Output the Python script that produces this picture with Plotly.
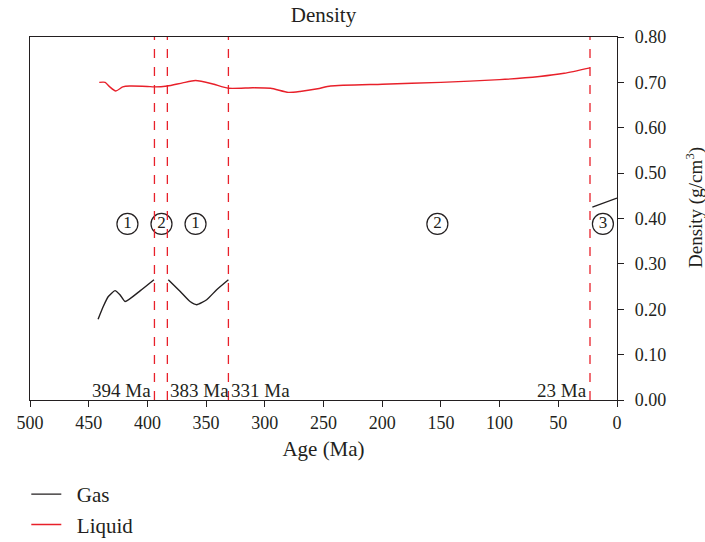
import plotly.graph_objects as go

# ---- data ----
liquid_age = [441, 436, 432, 427, 421, 415, 400, 394, 383, 370, 359, 345, 331, 310, 295, 280, 270, 255, 244, 200, 150, 100, 66, 45, 23]
liquid_den = [0.700, 0.700, 0.690, 0.681, 0.690, 0.692, 0.691, 0.690, 0.692, 0.699, 0.704, 0.697, 0.687, 0.688, 0.687, 0.678, 0.680, 0.686, 0.692, 0.696, 0.700, 0.706, 0.713, 0.720, 0.732]

gas_age = [442, 437.6, 433.3, 427.6, 423.4, 419, 406, 394.4, None,
           382.2, 372, 363.7, 358, 349.5, 341, 331, None,
           21, 0]
gas_den = [0.178, 0.206, 0.228, 0.241, 0.232, 0.217, 0.241, 0.265, None,
           0.265, 0.239, 0.217, 0.210, 0.221, 0.243, 0.265, None,
           0.425, 0.445]

boundary_age = [394, 383, 331, 23]
boundary_label = ["394 Ma", "383 Ma", "331 Ma", "23 Ma"]
boundary_side = ["left", "right", "right", "left"]

stage_age = [417, 388, 359, 153, 12]
stage_label = ["1", "2", "1", "2", "3"]
stage_y = 0.388

x_ticks = [500, 450, 400, 350, 300, 250, 200, 150, 100, 50, 0]
y_ticks = [0.0, 0.1, 0.2, 0.3, 0.4, 0.5, 0.6, 0.7, 0.8]

FONT = "Liberation Serif"
RED = "#e8202a"
BLACK = "#231f20"
NB = "\u00a0\u00a0"

fig = go.Figure()
fig.add_trace(go.Scatter(x=gas_age, y=gas_den, mode="lines", name=NB + "Gas", legendgroup="g",
                         line=dict(color=BLACK, width=1.4, shape="spline", smoothing=0.5),
                         connectgaps=False))
fig.add_trace(go.Scatter(x=liquid_age, y=liquid_den, mode="lines", name=NB + "Liquid", legendgroup="l",
                         line=dict(color=RED, width=1.4, shape="spline", smoothing=0.6)))
fig.add_trace(go.Scatter(x=stage_age, y=[stage_y] * len(stage_age), mode="markers+text",
                         text=stage_label, textposition="middle center",
                         textfont=dict(family=FONT, size=17, color=BLACK),
                         marker=dict(symbol="circle-open", size=21, color=BLACK, line=dict(width=1.2, color=BLACK)),
                         showlegend=False, hoverinfo="skip"))

for a, lab, side in zip(boundary_age, boundary_label, boundary_side):
    fig.add_shape(type="line", x0=a, x1=a, y0=0, y1=1, xref="x", yref="paper",
                  line=dict(color=RED, width=1.3, dash="dash"))
    fig.add_annotation(x=a, y=0, xref="x", yref="y", text=lab, showarrow=False,
                       xanchor="right" if side == "left" else "left", yanchor="bottom",
                       xshift=-1 if side == "left" else 1, yshift=-3,
                       font=dict(family=FONT, size=19, color=BLACK))

# right-axis title placed as rotated text
fig.add_annotation(x=(694 - 30) / 587, y=(400 - 208) / 363, xref="paper", yref="paper",
                   text="Density (g/cm<sup>3</sup>)", textangle=-90, showarrow=False,
                   xanchor="center", yanchor="middle", font=dict(family=FONT, size=19, color=BLACK))

fig.update_layout(
    width=705, height=542,
    margin=dict(l=30, r=88, t=37, b=142, autoexpand=False),
    paper_bgcolor="white", plot_bgcolor="white",
    font=dict(family=FONT, size=18, color=BLACK),
    title=dict(text="Density", x=(30 + 617) / 2 / 705, xanchor="center", y=1 - 15 / 542, yanchor="middle",
               font=dict(family=FONT, size=21, color=BLACK)),
    showlegend=True,
    legend=dict(x=-0.0063, y=1 - 474 / 542, xref="paper", yref="container", xanchor="left", yanchor="top",
                bgcolor="rgba(0,0,0,0)", font=dict(family=FONT, size=21, color=BLACK), tracegroupgap=0),
)
fig.update_xaxes(range=[500, 0], tickvals=x_ticks, ticks="outside", ticklen=6, tickcolor=BLACK, automargin=False,
                 showline=True, linecolor=BLACK, linewidth=1.2, mirror=True, showgrid=False, zeroline=False,
                 title=dict(text="Age (Ma)", standoff=9, font=dict(size=21)), tickfont=dict(size=18))
fig.update_yaxes(range=[0, 0.8], tickvals=y_ticks, tickformat=".2f", side="right", ticks="outside", ticklen=6,
                 tickcolor=BLACK, showline=True, linecolor=BLACK, linewidth=1.2, mirror=True, showgrid=False,
                 automargin=False, ticklabelstandoff=7, zeroline=False, tickfont=dict(size=18))

fig.write_html("out.html")
